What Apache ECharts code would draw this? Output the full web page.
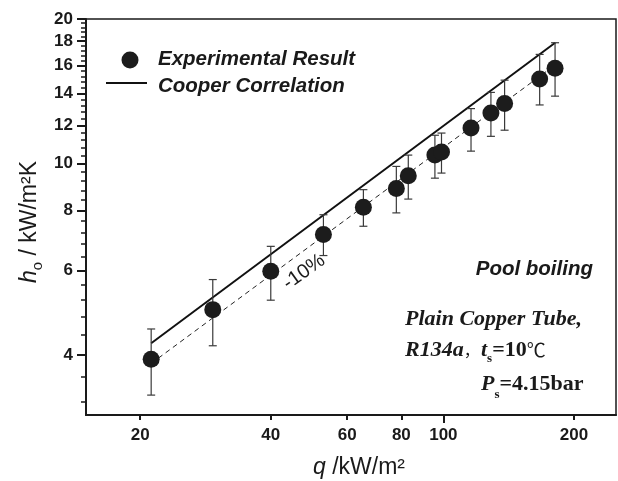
<!DOCTYPE html>
<html>
<head>
<meta charset="utf-8">
<script src="https://cdn.jsdelivr.net/npm/echarts@6/dist/echarts.min.js"></script>
<style>
html, body { margin: 0; padding: 0; background: #fff; }
#main { width: 618px; height: 481px; }
</style>
</head>
<body>
<div id="main"></div>
<script>
// heat flux q (kW/m2) and h_o (kW/m2K)
var qExp  = [21.2, 29.4, 40.0, 52.9, 65.4, 77.9, 83.0, 95.6, 99.0, 115.8, 128.7, 138.4, 166.7, 180.9];
var hExp  = [3.92, 4.97, 5.97, 7.12, 8.12, 8.88, 9.44, 10.42, 10.57, 11.87, 12.75, 13.34, 15.01, 15.79];
var hLow  = [3.30, 4.18, 5.20, 6.44, 7.41, 7.90, 8.44, 9.33, 9.56, 10.62, 11.40, 11.74, 13.25, 13.82];
var hHigh = [4.53, 5.74, 6.73, 7.83, 8.83, 9.87, 10.42, 11.46, 11.58, 13.02, 14.07, 14.92, 16.88, 17.85];

// Cooper correlation and the -10% line (end points)
var qCooper  = [21.2, 181];
var hCooper  = [4.23, 17.85];
var hMinus10 = [3.84, 16.05];

var xTicks = [20, 40, 60, 80, 100, 200];
var xMajorTicks = [100];
var xMinorTicks = [20, 40, 60, 80, 200];
var yTicks = [4, 6, 8, 10, 12, 14, 16, 18, 20];
var yMinorTicks = [3.2, 3.6, 4.4, 4.8, 5.2, 5.6, 6.4, 6.8, 7.2, 7.6, 8.4, 8.8, 9.2, 9.6,
    10.4, 10.8, 11.2, 11.6, 12.4, 12.8, 13.2, 13.6, 14.4, 14.8, 15.2, 15.6,
    16.4, 16.8, 17.2, 17.6, 18.4, 18.8, 19.2, 19.6];
var xRange = [15, 250];
var yRange = [3, 20];

var L = Math.log10;
var sans = '"Liberation Sans", Arial, sans-serif';
var serif = '"Liberation Serif", "Times New Roman", serif';
var cjk = '"Noto Sans CJK SC", sans-serif';

var expData = qExp.map(function (q, i) { return [L(q), L(hExp[i])]; });
var errData = qExp.map(function (q, i) { return [L(q), L(hLow[i]), L(hHigh[i])]; });
var cooperData = qCooper.map(function (q, i) { return [L(q), L(hCooper[i])]; });
var minusData = qCooper.map(function (q, i) { return [L(q), L(hMinus10[i])]; });

function powLabel(v) { return String(Math.round(Math.pow(10, v))); }

var chart = echarts.init(document.getElementById('main'));
chart.setOption({
    animation: false,
    backgroundColor: '#fff',
    grid: {
        left: 86, right: 2, top: 19, bottom: 66,
        containLabel: false, outerBoundsMode: 'none',
        show: true, borderColor: '#1a1a1a', borderWidth: 1.5
    },
    xAxis: [{
        type: 'value', position: 'bottom',
        min: L(xRange[0]), max: L(xRange[1]),
        axisLine: { show: true, lineStyle: { color: '#1a1a1a', width: 2 } },
        axisTick: { show: true, length: 8, customValues: xMajorTicks.map(L), lineStyle: { color: '#1a1a1a', width: 2 } },
        axisLabel: {
            customValues: xTicks.map(L), formatter: powLabel, margin: 12,
            color: '#1a1a1a', fontFamily: sans, fontWeight: 'bold', fontSize: 17
        },
        splitLine: { show: false }
    }, {
        type: 'value', position: 'bottom',
        min: L(xRange[0]), max: L(xRange[1]),
        axisLine: { show: false },
        axisTick: { show: true, length: 5, customValues: xMinorTicks.map(L), lineStyle: { color: '#1a1a1a', width: 2 } },
        axisLabel: { show: false },
        splitLine: { show: false }
    }],
    yAxis: [{
        type: 'value', position: 'left',
        min: L(yRange[0]), max: L(yRange[1]),
        axisLine: { show: true, lineStyle: { color: '#1a1a1a', width: 2 } },
        axisTick: { show: true, length: 9, customValues: yTicks.map(L), lineStyle: { color: '#1a1a1a', width: 2 } },
        axisLabel: {
            customValues: yTicks.map(L), formatter: powLabel, margin: 13,
            color: '#1a1a1a', fontFamily: sans, fontWeight: 'bold', fontSize: 17
        },
        splitLine: { show: false }
    }, {
        type: 'value', position: 'left',
        min: L(yRange[0]), max: L(yRange[1]),
        axisLine: { show: false },
        axisTick: { show: true, length: 5, customValues: yMinorTicks.map(L), lineStyle: { color: '#1a1a1a', width: 1.5 } },
        axisLabel: { show: false },
        splitLine: { show: false }
    }],
    series: [{
        name: 'Cooper Correlation',
        type: 'line',
        data: cooperData,
        symbol: 'none',
        lineStyle: { color: '#111', width: 2 },
        z: 1
    }, {
        name: '-10%',
        type: 'line',
        data: minusData,
        symbol: 'none',
        lineStyle: { color: '#222', width: 1, type: [5, 4] },
        z: 1
    }, {
        name: 'error',
        type: 'custom',
        data: errData,
        encode: { x: 0, y: [1, 2] },
        z: 2,
        renderItem: function (params, api) {
            var x = api.value(0);
            var bot = api.coord([x, api.value(1)]);
            var top = api.coord([x, api.value(2)]);
            var w = 4;
            var st = { stroke: '#3a3a3a', lineWidth: 1.2 };
            return {
                type: 'group',
                children: [
                    { type: 'line', shape: { x1: top[0], y1: top[1], x2: bot[0], y2: bot[1] }, style: st },
                    { type: 'line', shape: { x1: top[0] - w, y1: top[1], x2: top[0] + w, y2: top[1] }, style: st },
                    { type: 'line', shape: { x1: bot[0] - w, y1: bot[1], x2: bot[0] + w, y2: bot[1] }, style: st }
                ]
            };
        }
    }, {
        name: 'Experimental Result',
        type: 'scatter',
        data: expData,
        symbolSize: 17,
        itemStyle: { color: '#1c1c1c', opacity: 1 },
        z: 3
    }],
    graphic: [
        { type: 'circle', shape: { cx: 130, cy: 60, r: 8.5 }, style: { fill: '#1c1c1c' } },
        { type: 'line', shape: { x1: 106, y1: 83, x2: 147, y2: 83 }, style: { stroke: '#111', lineWidth: 2 } },
        { type: 'text', x: 158, y: 59, style: {
            text: 'Experimental Result', fill: '#1a1a1a', fontFamily: sans, fontSize: 20.5,
            fontWeight: 'bold', fontStyle: 'italic', align: 'left', verticalAlign: 'middle' } },
        { type: 'text', x: 158, y: 86, style: {
            text: 'Cooper Correlation', fill: '#1a1a1a', fontFamily: sans, fontSize: 20.5,
            fontWeight: 'bold', fontStyle: 'italic', align: 'left', verticalAlign: 'middle' } },
        { type: 'text', x: 593, y: 269, style: {
            text: 'Pool boiling', fill: '#1a1a1a', fontFamily: sans, fontSize: 20.5,
            fontWeight: 'bold', fontStyle: 'italic', align: 'right', verticalAlign: 'middle' } },
        { type: 'text', x: 405, y: 319, style: {
            text: 'Plain Copper Tube,', fill: '#1a1a1a', fontFamily: serif, fontSize: 22,
            fontWeight: 'bold', fontStyle: 'italic', align: 'left', verticalAlign: 'middle' } },
        { type: 'text', x: 405, y: 350, style: {
            text: '{b|R134a}{c|，}', align: 'left', verticalAlign: 'middle',
            rich: {
                b: { fill: '#1a1a1a', fontFamily: serif, fontSize: 22, fontWeight: 'bold', fontStyle: 'italic' },
                c: { fill: '#1a1a1a', fontFamily: cjk, fontSize: 16 }
            } } },
        { type: 'text', x: 481, y: 350, style: {
            text: '{t|t}{s|s}{n|=10}{c|℃}', align: 'left', verticalAlign: 'middle',
            rich: {
                t: { fill: '#1a1a1a', fontFamily: serif, fontSize: 22, fontWeight: 'bold', fontStyle: 'italic', lineHeight: 30 },
                s: { fill: '#1a1a1a', fontFamily: serif, fontSize: 13, fontWeight: 'bold', lineHeight: 13, verticalAlign: 'bottom' },
                n: { fill: '#1a1a1a', fontFamily: serif, fontSize: 22, fontWeight: 'bold', lineHeight: 30 },
                c: { fill: '#1a1a1a', fontFamily: cjk, fontSize: 19, lineHeight: 30 }
            } } },
        { type: 'text', x: 481, y: 384, style: {
            text: '{t|P}{s|s}{n|=4.15bar}', align: 'left', verticalAlign: 'middle',
            rich: {
                t: { fill: '#1a1a1a', fontFamily: serif, fontSize: 22, fontWeight: 'bold', fontStyle: 'italic', lineHeight: 34 },
                s: { fill: '#1a1a1a', fontFamily: serif, fontSize: 13, fontWeight: 'bold', lineHeight: 13, verticalAlign: 'bottom' },
                n: { fill: '#1a1a1a', fontFamily: serif, fontSize: 22, fontWeight: 'bold', lineHeight: 34 }
            } } },
        { type: 'text', x: 304, y: 272, rotation: 0.62, style: {
            text: '-10%', fill: '#1a1a1a', fontFamily: sans, fontSize: 20,
            align: 'center', verticalAlign: 'middle' } },
        { type: 'text', x: 30, y: 222, rotation: Math.PI / 2, style: {
            text: '{i|h}{s|o}{n| / kW/m²K}', align: 'center', verticalAlign: 'middle',
            rich: {
                i: { fill: '#1a1a1a', fontFamily: sans, fontSize: 23, fontStyle: 'italic', lineHeight: 30 },
                s: { fill: '#1a1a1a', fontFamily: sans, fontSize: 15, lineHeight: 15, verticalAlign: 'bottom' },
                n: { fill: '#1a1a1a', fontFamily: sans, fontSize: 23, lineHeight: 30 }
            } } },
        { type: 'text', x: 359, y: 468, style: {
            text: '{i|q}{n| /kW/m²}', align: 'center', verticalAlign: 'middle',
            rich: {
                i: { fill: '#1a1a1a', fontFamily: sans, fontSize: 23, fontStyle: 'italic' },
                n: { fill: '#1a1a1a', fontFamily: sans, fontSize: 23 }
            } } }
    ]
});
</script>
</body>
</html>
